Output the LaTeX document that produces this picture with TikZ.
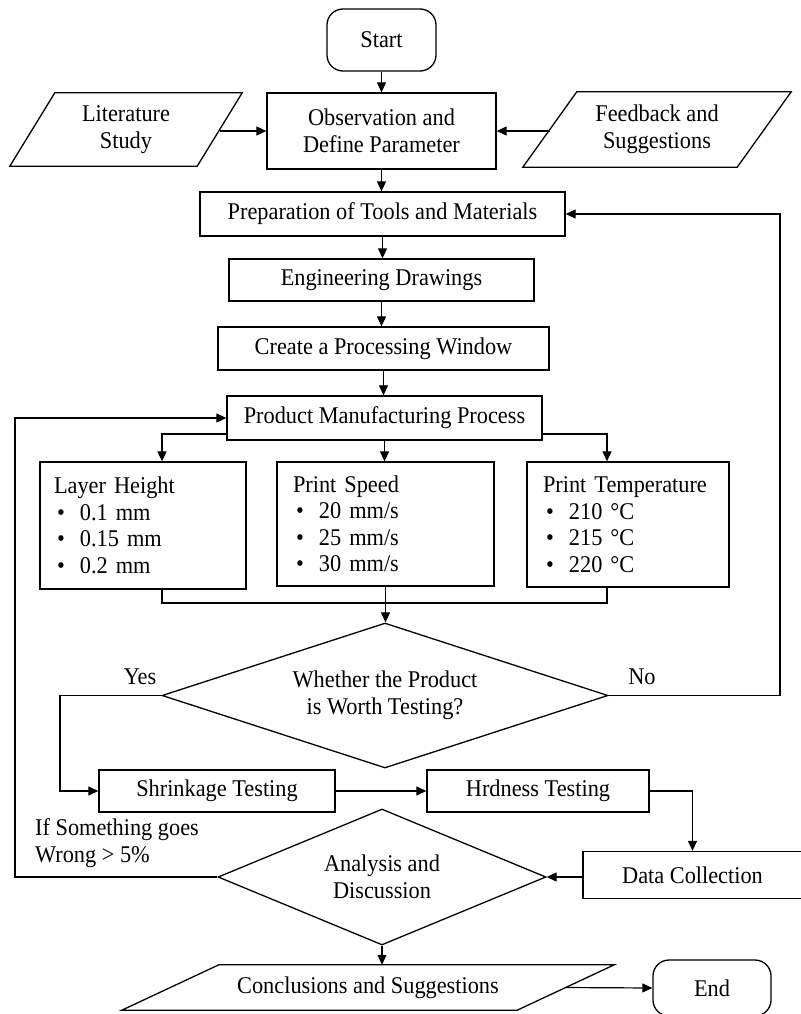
\documentclass[tikz,border=0pt]{standalone}
\usepackage{fontspec}
\setmainfont{Liberation Serif}[FakeStretch=0.93]
\usetikzlibrary{shapes.geometric,arrows.meta}
\newcommand{\bul}[1]{\makebox[26pt][l]{\hspace{3pt}\textbullet}#1}
\newcommand{\paral}[2]{\draw[line width=1.3pt] ([xshift=#2/2]#1.north west) -- ([xshift=#2/2]#1.north east) -- ([xshift=-#2/2]#1.south east) -- ([xshift=-#2/2]#1.south west) -- cycle;}
\begin{document}
\begin{tikzpicture}[x=1pt,y=-1pt,
  every node/.style={font=\fontsize{24}{26.5}\selectfont, inner sep=0pt},
  box/.style={draw, line width=1.3pt, align=center},
  listbox/.style={draw, line width=1.3pt, align=left},
  dia/.style={draw, diamond, line width=1.3pt, align=center},
  para/.style={align=center},
  line/.style={line width=1.2pt},
  arr/.style={line width=1.2pt, -{Triangle[length=10pt,width=9pt]}}
]
\useasboundingbox (0,0) rectangle (800,1014);

\node[box, rounded corners=16pt, minimum width=109, minimum height=62] (start) at (381.5,40) {Start};
\node[box, minimum width=229, minimum height=76] (obs) at (381.5,131) {Observation and\\Define Parameter};
\node[para, minimum width=187, minimum height=73] (lit) at (126,129.5) {Literature\\Study};
\paral{lit}{45}
\node[para, minimum width=214, minimum height=75] (fb) at (657,129.5) {Feedback and\\Suggestions};
\paral{fb}{54}
\node[box, minimum width=365, minimum height=44] (prep) at (382.5,214) {Preparation of Tools and Materials};
\node[box, minimum width=305, minimum height=42] (eng) at (381.5,280) {Engineering Drawings};
\node[box, minimum width=331, minimum height=43] (create) at (383.5,348.5) {Create a Processing Window};
\node[box, minimum width=315, minimum height=44] (product) at (384.5,418) {Product Manufacturing Process};

\node[listbox, inner xsep=14pt, text width=178pt, minimum height=127] (layer) at (143,525.5)
  {Layer Height\\\bul{0.1 mm}\\\bul{0.15 mm}\\\bul{0.2 mm}};
\node[listbox, inner xsep=16pt, text width=185pt, minimum height=124] (speed) at (385.5,524)
  {Print Speed\\\bul{20 mm/s}\\\bul{25 mm/s}\\\bul{30 mm/s}};
\node[listbox, inner xsep=16pt, text width=170pt, minimum height=125] (temp) at (628,524.5)
  {Print Temperature\\\bul{210 °C}\\\bul{215 °C}\\\bul{220 °C}};

\node[dia, aspect=3.08, minimum width=446, minimum height=145] (d1) at (385,695.5) {Whether the Product\\is Worth Testing?};
\node (yes) at (140,677) {Yes};
\node (no) at (642,677) {No};

\node[box, minimum width=236, minimum height=42] (shrink) at (217,791) {Shrinkage Testing};
\node[box, minimum width=222, minimum height=42] (hard) at (538,791) {Hrdness Testing};
\node[box, minimum width=219, minimum height=47] (data) at (692.5,875) {Data Collection};
\node[dia, aspect=2.41, minimum width=328, minimum height=136] (d2) at (382,877) {Analysis and\\Discussion};
\node[align=left, anchor=west] (wrong) at (35,843) {If Something goes\\Wrong > 5\%};

\node[para, minimum width=395, minimum height=45] (concl) at (368,987.5) {Conclusions and Suggestions};
\paral{concl}{97}
\node[box, rounded corners=16pt, minimum width=118, minimum height=56] (end) at (712,988) {End};

\coordinate (noc) at (780,695.5);
\coordinate (yesc) at (60,695.5);
\coordinate (loopc) at (15,877);
\coordinate (join) at (385,603);
\coordinate (lj) at ([xshift=19pt]layer.south);
\coordinate (tj) at ([xshift=-21pt]temp.south);

\draw[arr] (start.south) -- (start.south |- obs.north);
\draw[arr] (lit.east |- obs.west) -- (obs.west);
\draw[arr] (fb.west |- obs.east) -- (obs.east);
\draw[arr] (obs.south) -- (obs.south |- prep.north);
\draw[arr] (prep.south) -- (prep.south |- eng.north);
\draw[arr] (eng.south) -- (eng.south |- create.north);
\draw[arr] (create.south) -- (create.south |- product.north);
\draw[arr] ([yshift=-16pt]product.west) -| ([xshift=19pt]layer.north);
\draw[arr] (product.south) -- (product.south |- speed.north);
\draw[arr] ([yshift=-16pt]product.east) -| ([xshift=-21pt]temp.north);
\draw[line] (lj) |- (tj |- join) -- (tj);
\draw[arr] (speed.south) -- (speed.south |- d1.north);
\draw[arr] (d1.east) -- (noc) |- (prep.east);
\draw[arr] (d1.west) -- (yesc) |- (shrink.west);
\draw[arr] (shrink.east) -- (hard.west);
\draw[arr] (hard.east) -| (data.north);
\draw[arr] (data.west |- d2.east) -- (d2.east);
\draw[arr] (d2.west) -- (loopc) |- (product.west);
\draw[arr] (d2.south) -- (d2.south |- concl.north);
\draw[arr] (concl.east) -- (end.west);
\end{tikzpicture}
\end{document}
